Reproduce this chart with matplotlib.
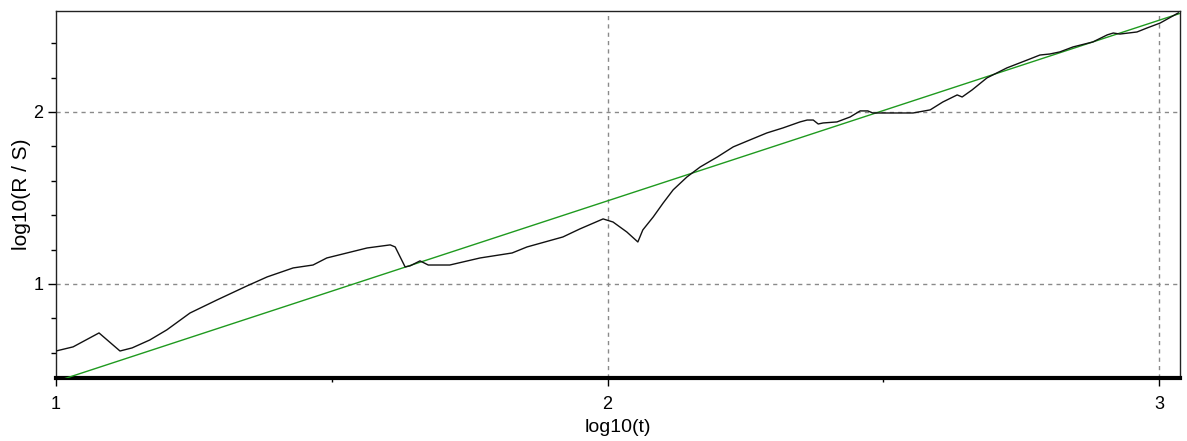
import matplotlib
matplotlib.use("Agg")
import matplotlib.pyplot as plt
from matplotlib.ticker import FixedLocator

# Rescaled range analysis: log10(R/S) versus log10(t)
log_t = [1.000, 1.031, 1.078, 1.116, 1.138, 1.170, 1.201, 1.243, 1.292, 1.346,
         1.383, 1.430, 1.466, 1.491, 1.564, 1.606, 1.615, 1.633, 1.642, 1.660,
         1.675, 1.714, 1.769, 1.827, 1.854, 1.919, 1.950, 1.992, 2.010, 2.035,
         2.055, 2.064, 2.083, 2.101, 2.119, 2.144, 2.168, 2.199, 2.228, 2.258,
         2.289, 2.318, 2.349, 2.362, 2.373, 2.382, 2.391, 2.416, 2.440, 2.458,
         2.472, 2.481, 2.554, 2.585, 2.608, 2.634, 2.643, 2.661, 2.688, 2.724,
         2.761, 2.784, 2.802, 2.820, 2.844, 2.880, 2.906, 2.917, 2.929, 2.960,
         2.978, 3.002, 3.035]
log_rs = [0.610, 0.634, 0.715, 0.610, 0.628, 0.674, 0.733, 0.831, 0.907, 0.988,
          1.041, 1.093, 1.110, 1.151, 1.209, 1.227, 1.215, 1.099, 1.105, 1.134,
          1.110, 1.110, 1.151, 1.180, 1.215, 1.273, 1.320, 1.378, 1.360, 1.302,
          1.244, 1.314, 1.390, 1.471, 1.547, 1.622, 1.680, 1.738, 1.797, 1.837,
          1.878, 1.907, 1.942, 1.953, 1.953, 1.930, 1.936, 1.942, 1.971, 2.006,
          2.006, 1.994, 1.994, 2.012, 2.058, 2.099, 2.087, 2.128, 2.198, 2.256,
          2.302, 2.331, 2.337, 2.349, 2.378, 2.407, 2.448, 2.459, 2.453, 2.465,
          2.488, 2.517, 2.576]

# Fitted regression line (endpoints)
fit_x = [1.0, 3.038]
fit_y = [0.433, 2.573]

x_major = [1, 2, 3]
x_minor = [1.5, 2.5]
y_major = [1, 2]
y_minor = [0.6, 0.8, 1.2, 1.4, 1.6, 1.8, 2.2, 2.4]

fig = plt.figure(figsize=(11.87, 4.41), dpi=100)
ax = fig.add_axes([56 / 1187, 1 - 378 / 441, (1180 - 56) / 1187, (378 - 11) / 441])

ax.plot(fit_x, fit_y, color="#1f9a1f", lw=1.0, zorder=3)
ax.plot(log_t, log_rs, color="#111111", lw=1.0, zorder=4)

ax.set_xlim(1.0, 3.038)
ax.set_ylim(0.453, 2.587)

ax.xaxis.set_major_locator(FixedLocator(x_major))
ax.xaxis.set_minor_locator(FixedLocator(x_minor))
ax.yaxis.set_major_locator(FixedLocator(y_major))
ax.yaxis.set_minor_locator(FixedLocator(y_minor))

ax.grid(True, which="major", color="#8a8a8a", linestyle=(0, (3, 3)), linewidth=1.0)
# no vertical gridline at the left edge
for gl, v in zip(ax.get_xgridlines(), x_major):
    if v == 1:
        gl.set_visible(False)

for name in ("top", "right", "left"):
    ax.spines[name].set_linewidth(1.0)
    ax.spines[name].set_color("#222222")
ax.spines["bottom"].set_linewidth(3.0)
ax.spines["bottom"].set_color("black")

ax.tick_params(axis="x", which="major", direction="out", length=6, width=1, labelsize=13, pad=7)
ax.tick_params(axis="x", which="minor", direction="out", length=3, width=1)
ax.tick_params(axis="y", which="major", direction="out", length=6, width=1, labelsize=13, pad=3)
ax.tick_params(axis="y", which="minor", direction="out", length=3.5, width=1)

font = "Liberation Sans"
for lab in ax.get_xticklabels() + ax.get_yticklabels():
    lab.set_fontfamily(font)

ax.set_xlabel("log10(t)", fontsize=14, family=font, labelpad=4)
ax.set_ylabel("log10(R / S)", fontsize=15, family=font, labelpad=2)

fig.savefig("out.png", dpi=100)
